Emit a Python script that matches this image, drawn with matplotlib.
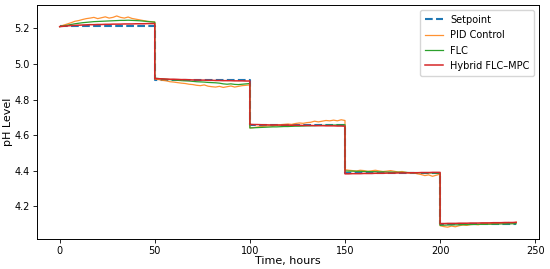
"""pH level tracking: setpoint vs. PID, FLC and hybrid FLC-MPC controllers."""

import matplotlib
matplotlib.use("Agg")
import matplotlib.pyplot as plt
import numpy as np

# segment boundaries (hours) and setpoint levels
seg_edges = [0, 50, 100, 150, 200, 240]
setpoint_levels = [5.215, 4.91, 4.655, 4.385, 4.10]
sample_step = 2  # hours between readings inside a segment

pid_segments = [
    [5.210, 5.218, 5.225, 5.232, 5.240, 5.244, 5.250, 5.255, 5.258, 5.262, 5.255, 5.260, 5.265,
     5.258, 5.262, 5.270, 5.262, 5.258, 5.264, 5.256, 5.252, 5.248, 5.244, 5.240, 5.238, 5.236],
    [4.915, 4.912, 4.908, 4.905, 4.900, 4.898, 4.895, 4.892, 4.890, 4.886, 4.884, 4.880, 4.878,
     4.882, 4.875, 4.872, 4.870, 4.874, 4.868, 4.872, 4.876, 4.870, 4.874, 4.878, 4.880, 4.882],
    [4.640, 4.642, 4.645, 4.648, 4.650, 4.652, 4.650, 4.655, 4.658, 4.660, 4.662, 4.660, 4.665,
     4.668, 4.666, 4.670, 4.672, 4.678, 4.674, 4.678, 4.682, 4.680, 4.684, 4.680, 4.686, 4.682],
    [4.405, 4.402, 4.400, 4.398, 4.402, 4.400, 4.396, 4.399, 4.402, 4.398, 4.395, 4.397, 4.400,
     4.396, 4.392, 4.395, 4.390, 4.386, 4.388, 4.382, 4.378, 4.372, 4.376, 4.368, 4.374, 4.380],
    [4.090, 4.085, 4.082, 4.088, 4.084, 4.090, 4.094, 4.092, 4.096, 4.098, 4.095, 4.100, 4.102,
     4.099, 4.104, 4.102, 4.106, 4.103, 4.108, 4.105, 4.110],
]

flc_segments = [
    [5.210, 5.214, 5.218, 5.222, 5.226, 5.229, 5.232, 5.234, 5.236, 5.238, 5.239, 5.240, 5.241,
     5.242, 5.243, 5.244, 5.245, 5.245, 5.246, 5.245, 5.244, 5.243, 5.241, 5.239, 5.237, 5.235],
    [4.920, 4.918, 4.916, 4.914, 4.912, 4.910, 4.908, 4.906, 4.905, 4.904, 4.902, 4.900, 4.899,
     4.898, 4.896, 4.895, 4.894, 4.892, 4.888, 4.886, 4.888, 4.885, 4.884, 4.886, 4.888, 4.890],
    [4.640, 4.641, 4.642, 4.643, 4.644, 4.645, 4.646, 4.646, 4.647, 4.648, 4.648, 4.649, 4.650,
     4.650, 4.651, 4.652, 4.652, 4.653, 4.654, 4.654, 4.655, 4.656, 4.656, 4.657, 4.657, 4.658],
    [4.398, 4.397, 4.397, 4.396, 4.396, 4.395, 4.395, 4.394, 4.394, 4.393, 4.393, 4.392, 4.392,
     4.391, 4.391, 4.390, 4.390, 4.389, 4.389, 4.388, 4.388, 4.388, 4.387, 4.387, 4.386, 4.386],
    [4.092, 4.093, 4.094, 4.094, 4.095, 4.095, 4.096, 4.096, 4.097, 4.097, 4.098, 4.098, 4.098,
     4.099, 4.099, 4.099, 4.100, 4.100, 4.100, 4.101, 4.101],
]

hybrid_segments = [
    [5.210, 5.212, 5.214, 5.216, 5.217, 5.218, 5.219, 5.220, 5.221, 5.221, 5.222, 5.222, 5.223,
     5.223, 5.224, 5.224, 5.224, 5.225, 5.225, 5.225, 5.226, 5.226, 5.226, 5.227, 5.227, 5.227],
    [4.918, 4.917, 4.916, 4.915, 4.914, 4.914, 4.913, 4.912, 4.912, 4.911, 4.910, 4.910, 4.909,
     4.909, 4.908, 4.908, 4.907, 4.907, 4.906, 4.906, 4.906, 4.905, 4.905, 4.905, 4.904, 4.904],
    [4.660, 4.659, 4.659, 4.658, 4.658, 4.657, 4.657, 4.657, 4.656, 4.656, 4.656, 4.655, 4.655,
     4.655, 4.654, 4.654, 4.654, 4.653, 4.653, 4.653, 4.652, 4.652, 4.652, 4.651, 4.651, 4.650],
    [4.382, 4.382, 4.383, 4.383, 4.383, 4.384, 4.384, 4.384, 4.385, 4.385, 4.385, 4.386, 4.386,
     4.386, 4.387, 4.387, 4.387, 4.388, 4.388, 4.388, 4.389, 4.389, 4.389, 4.390, 4.390, 4.390],
    [4.102, 4.102, 4.103, 4.103, 4.103, 4.104, 4.104, 4.104, 4.105, 4.105, 4.105, 4.106, 4.106,
     4.106, 4.107, 4.107, 4.107, 4.108, 4.108, 4.108, 4.109],
]


def join_segments(segments):
    """Stitch per-segment readings into one (t, y) series with vertical steps."""
    t_all, y_all = [], []
    for i, vals in enumerate(segments):
        t = seg_edges[i] + sample_step * np.arange(len(vals))
        t_all.extend(t)
        y_all.extend(vals)
    return np.array(t_all), np.array(y_all)


fig = plt.figure(figsize=(5.5, 2.69), dpi=100)
ax = fig.add_axes([0.067, 0.112, 0.913, 0.869])

ax.step(seg_edges, setpoint_levels + [setpoint_levels[-1]], where="post",
        color="tab:blue", linestyle="--", linewidth=1.5, label="Setpoint", zorder=2)

t, y = join_segments(pid_segments)
ax.plot(t, y, color="tab:orange", linewidth=0.9, alpha=0.85, label="PID Control", zorder=3)
t, y = join_segments(flc_segments)
ax.plot(t, y, color="tab:green", linewidth=0.9, label="FLC", zorder=4)
t, y = join_segments(hybrid_segments)
ax.plot(t, y, color="tab:red", linewidth=1.1, label="Hybrid FLC\u2013MPC", zorder=5)

ax.set_xlim(-12, 252)
ax.set_ylim(4.016, 5.331)
ax.set_xticks([0, 50, 100, 150, 200, 250])
ax.set_yticks([4.2, 4.4, 4.6, 4.8, 5.0, 5.2])
ax.tick_params(labelsize=7, length=3, width=0.6, pad=2)
for s in ax.spines.values():
    s.set_linewidth(0.7)
ax.set_xlabel("Time, hours", fontsize=8, labelpad=0)
ax.set_ylabel("pH Level", fontsize=8, labelpad=1)
ax.legend(loc="upper right", fontsize=7, handlelength=1.9, handletextpad=0.7,
          borderpad=0.5, labelspacing=0.55)

fig.savefig("out.png", dpi=100)
plt.close(fig)
